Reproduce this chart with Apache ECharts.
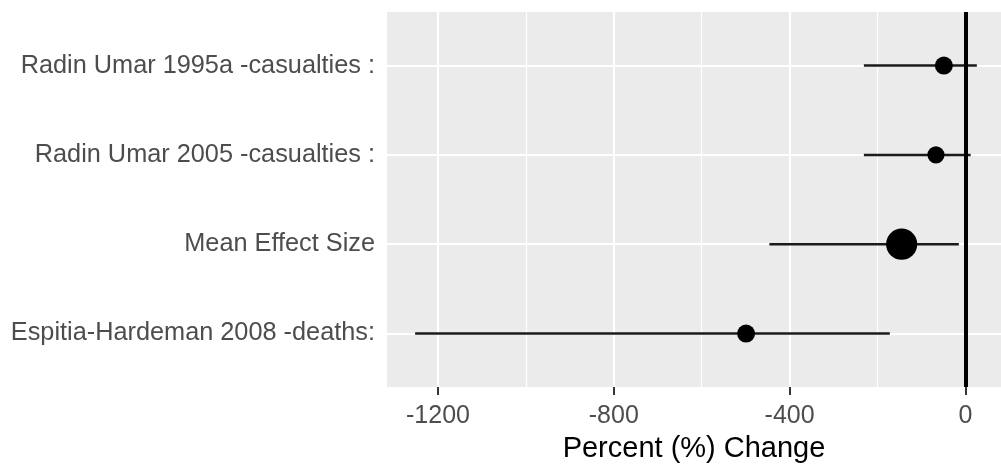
<!DOCTYPE html>
<html>
<head>
<meta charset="utf-8">
<title>Percent (%) Change</title>
<script src="https://cdn.jsdelivr.net/npm/echarts@6/dist/echarts.min.js"></script>
<style>
  html, body { margin: 0; padding: 0; background: #ffffff; }
  #chart { width: 1001px; height: 468px; }
</style>
</head>
<body>
<div id="chart"></div>
<script>
// Studies, listed from the bottom row to the top row
const studies = [
  'Espitia-Hardeman 2008 -deaths:',
  'Mean Effect Size',
  'Radin Umar 2005 -casualties :',
  'Radin Umar 1995a -casualties :'
];
// Point estimate and interval bounds, percent change
const estimate = [-499, -145, -67, -49];
const lower = [-1252, -446, -231, -231];
const upper = [-172, -15, 12, 26];
// Relative weight of each estimate (drives the point area)
const weight = [1, 3, 0.9, 1];

// Axis ticks and grid breaks
const xMajorTicks = [-1200, -800, -400, 0];
const xMinorTicks = [-1000, -600, -200];
const rowPositions = studies.map((_, i) => i + 1);

const FONT = '"Liberation Sans", Arial, Helvetica, sans-serif';

const chart = echarts.init(document.getElementById('chart'), null, { renderer: 'canvas' });

const gridLine = (vals, axis, width) => vals.map(v => ({
  [axis]: v,
  lineStyle: { color: '#ffffff', width: width, type: 'solid' }
}));

const option = {
  animation: false,
  backgroundColor: '#ffffff',
  grid: {
    left: 387, right: 0, top: 12, bottom: 78,
    show: true, backgroundColor: '#ebebeb', borderWidth: 0
  },
  xAxis: {
    type: 'value',
    min: -1316,
    max: 81,
    name: 'Percent (%) Change',
    nameLocation: 'middle',
    nameGap: 44,
    nameTextStyle: { color: '#000000', fontSize: 29, fontFamily: FONT },
    axisLine: { show: false },
    axisTick: {
      show: true, length: 8, customValues: xMajorTicks,
      lineStyle: { color: '#333333', width: 2 }
    },
    axisLabel: {
      customValues: xMajorTicks, margin: 17,
      color: '#4d4d4d', fontSize: 25, fontFamily: FONT,
      formatter: v => String(v)
    },
    splitLine: { show: false }
  },
  yAxis: {
    type: 'value',
    min: 0.4,
    max: rowPositions.length + 0.6,
    axisLine: { show: false },
    axisTick: {
      show: true, length: 8, customValues: rowPositions,
      lineStyle: { color: '#333333', width: 2 }
    },
    axisLabel: {
      customValues: rowPositions, margin: 12,
      color: '#4d4d4d', fontSize: 25.3, fontFamily: FONT,
      padding: [5, 0, 0, 0],
      formatter: v => studies[Math.round(v) - 1] || ''
    },
    splitLine: { show: false }
  },
  series: [
    {
      // panel grid lines
      type: 'line', data: [], z: 1, silent: true,
      markLine: {
        z: 1,
        silent: true, symbol: 'none', label: { show: false },
        animation: false,
        data: [
          ...gridLine(xMinorTicks, 'xAxis', 1.2),
          ...gridLine(xMajorTicks, 'xAxis', 2.2),
          ...gridLine(rowPositions, 'yAxis', 2.2)
        ]
      }
    },
    {
      // interval bars
      type: 'custom', z: 2, silent: true,
      data: studies.map((_, i) => [lower[i], upper[i], rowPositions[i]]),
      encode: { x: [0, 1], y: 2 },
      renderItem: (params, api) => {
        const a = api.coord([api.value(0), api.value(2)]);
        const b = api.coord([api.value(1), api.value(2)]);
        return {
          type: 'line',
          shape: { x1: a[0], y1: a[1], x2: b[0], y2: b[1] },
          style: { stroke: '#1a1a1a', lineWidth: 2.5 }
        };
      }
    },
    {
      // no-change reference line
      type: 'line', data: [], z: 3, silent: true,
      markLine: {
        z: 3,
        silent: true, symbol: 'none', label: { show: false },
        animation: false,
        data: [{ xAxis: 0, lineStyle: { color: '#000000', width: 4, type: 'solid' } }]
      }
    },
    {
      // point estimates
      type: 'scatter', z: 4, silent: true,
      data: studies.map((_, i) => ({
        value: [estimate[i], rowPositions[i]],
        symbolSize: 18 * Math.sqrt(weight[i])
      })),
      itemStyle: { color: '#000000', opacity: 1 }
    }
  ]
};

chart.setOption(option);
</script>
</body>
</html>
